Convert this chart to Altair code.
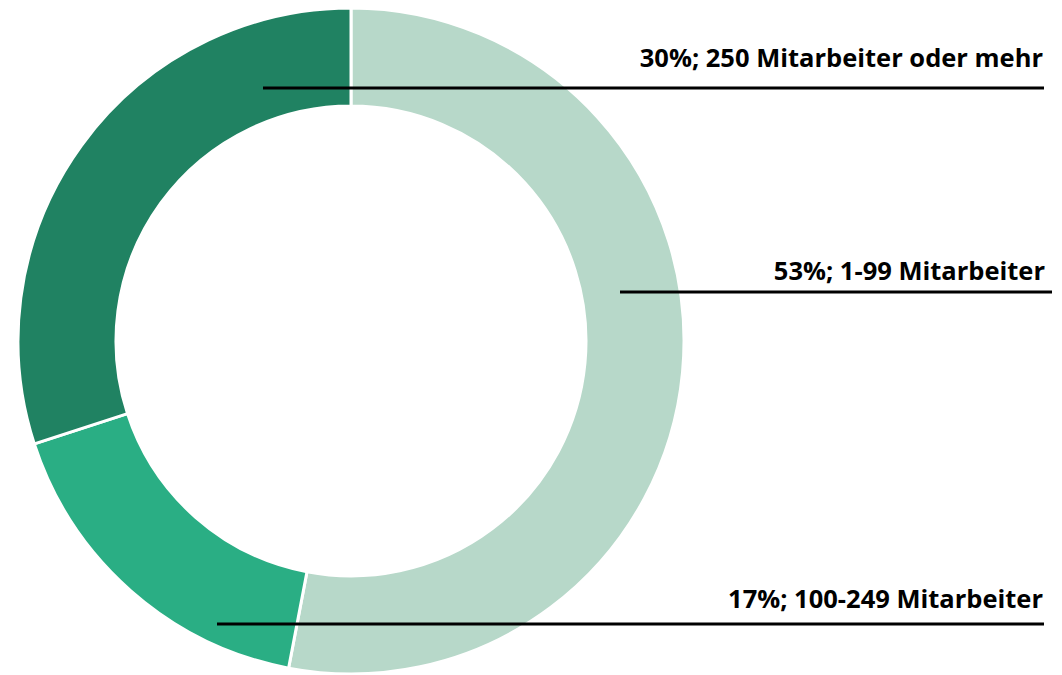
import altair as alt
import pandas as pd

# Data
categories = ["1-99 Mitarbeiter", "100-249 Mitarbeiter", "250 Mitarbeiter oder mehr"]
shares = [53, 17, 30]
colors = ["#b7d8c9", "#2aae84", "#208262"]

# Label leader lines (chart coordinates) and label text
label_texts = ["30%; 250 Mitarbeiter oder mehr", "53%; 1-99 Mitarbeiter", "17%; 100-249 Mitarbeiter"]
line_x_start = [255, 612, 209]
line_x_end = [1036, 1044, 1036]
line_y = [80, 284, 616]
text_x = [1035, 1037, 1035]
text_y = [59, 272, 600]

W, H = 1046, 667
CX, CY = 343, 333
R_OUT, R_IN = 333, 235

arc_df = pd.DataFrame({"cat": categories, "share": shares, "order": list(range(len(categories)))})
lab_df = pd.DataFrame({
    "text": label_texts, "x1": line_x_start, "x2": line_x_end, "y": line_y,
    "tx": text_x, "ty": text_y,
})

xs = alt.Scale(domain=[0, W], range=[0, W])
ys = alt.Scale(domain=[0, H], range=[0, H])

arc = alt.Chart(arc_df).mark_arc(
    outerRadius=R_OUT, innerRadius=R_IN, stroke="white", strokeWidth=3
).encode(
    theta=alt.Theta("share:Q", stack=True),
    order=alt.Order("order:Q"),
    color=alt.Color("cat:N", scale=alt.Scale(domain=categories, range=colors), legend=None),
    x=alt.value(CX),
    y=alt.value(CY),
)

rules = alt.Chart(lab_df).mark_rule(color="black", strokeWidth=3).encode(
    x=alt.X("x1:Q", scale=xs, axis=None),
    x2="x2:Q",
    y=alt.Y("y:Q", scale=ys, axis=None),
)

texts = alt.Chart(lab_df).mark_text(
    align="right", baseline="alphabetic", fontSize=25.5, fontWeight="bold",
    font="Open Sans", color="black"
).encode(
    x=alt.X("tx:Q", scale=xs, axis=None),
    y=alt.Y("ty:Q", scale=ys, axis=None),
    text="text:N",
)

chart = alt.layer(arc, rules, texts).resolve_scale(color="independent").properties(
    width=W, height=H, autosize=alt.AutoSizeParams(type="none"), padding=0
).configure_view(stroke=None)

chart.save("out.html", embed_options={"renderer": "svg", "actions": False})
